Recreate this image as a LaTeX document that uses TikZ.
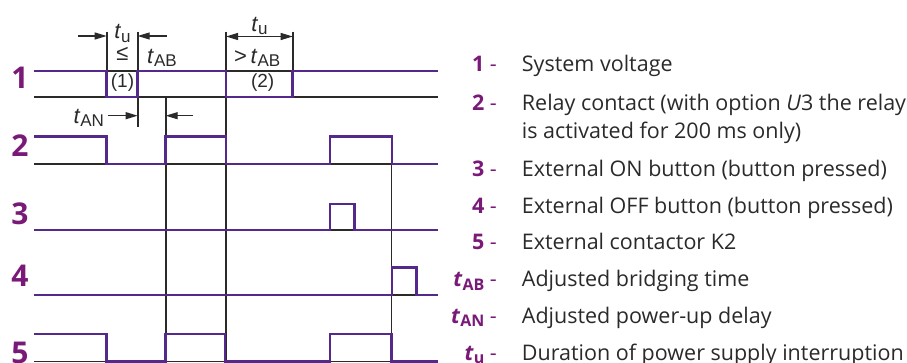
\documentclass[tikz,border=0pt]{standalone}
\usepackage{fontspec}
\setmainfont{Open Sans}
\newfontfamily\diagfont{Liberation Sans}
\usepackage{xcolor}
\usepackage{tikz}
\usetikzlibrary{arrows.meta,calc}
\definecolor{WavePurple}{HTML}{55288C}
\definecolor{LabelPurple}{HTML}{7A1A78}
\definecolor{TextDark}{HTML}{2B2A29}
\newcommand{\tdiag}[1]{\textit{t}\raisebox{-0.15em}{\fontsize{17}{17}\selectfont #1}}
\newcommand{\tkey}[1]{\textbf{\textit{t}\raisebox{-0.15em}{\fontsize{16}{16}\selectfont #1}}}

\begin{document}
\begin{tikzpicture}[x=1pt,y=-1pt,
    wave/.style={WavePurple, line width=2.8pt, line join=miter},
    base/.style={TextDark, line width=1.7pt},
    marker/.style={TextDark, line width=1.7pt},
    dimarrow/.style={TextDark, line width=1.1pt, -{Triangle[length=12pt,width=7pt]}},
    dimboth/.style={TextDark, line width=1.1pt, {Triangle[length=12pt,width=7pt]}-{Triangle[length=12pt,width=7pt]}},
    rowlab/.style={font=\fontsize{30}{30}\selectfont\bfseries, text=LabelPurple, anchor=base, inner sep=0pt},
    tlab/.style={font=\diagfont\fontsize{22}{22}\selectfont, text=TextDark, anchor=base, inner sep=0pt},
    caselab/.style={font=\diagfont\fontsize{19}{19}\selectfont, text=TextDark, anchor=base, inner sep=0pt},
    keylab/.style={font=\fontsize{21.5}{24}\selectfont, text=LabelPurple, anchor=base east, inner sep=0pt},
    desc/.style={font=\fontsize{21.5}{24}\selectfont, text=TextDark, anchor=base west, inner sep=0pt}
  ]
  \useasboundingbox (0,0) rectangle (907,363);

  % row numbers
  \foreach \n/\y in {1/89,2/156.5,3/225,4/286.5,5/363} {
      \node[rowlab] (row\n) at (20,\y) {\n};
    }

  % black reference lines
  \draw[base] (34,71) -- (438,71);
  \foreach \y in {97,164,230,295,361.6} {
      \draw[base] (34,\y) -- (438,\y);
    }

  % time markers
  \draw[marker] (106.7,31.7) -- (106.7,71);
  \draw[marker] (137.7,31.7) -- (137.7,126.7);
  \draw[marker] (165.7,97) -- (165.7,363);
  \draw[marker] (226,31.7) -- (226,363);
  \draw[marker] (292.7,31.7) -- (292.7,71);
  \draw[marker] (391.5,164) -- (391.5,363);

  % signals
  \draw[wave] (34,71) -- (106.7,71) -- (106.7,97) -- (137.7,97) -- (137.7,71)
    -- (226,71) -- (226,97) -- (292.7,97) -- (292.7,71) -- (438,71);
  \draw[wave] (34,136.7) -- (106.7,136.7) -- (106.7,164) -- (165.7,164) -- (165.7,136.7)
    -- (226,136.7) -- (226,164) -- (330,164) -- (330,136.7) -- (392,136.7)
    -- (392,164) -- (438,164);
  \draw[wave] (34,230) -- (330,230) -- (330,204) -- (354.5,204) -- (354.5,230) -- (438,230);
  \draw[wave] (34,295) -- (392,295) -- (392,267.5) -- (416.5,267.5) -- (416.5,295) -- (438,295);
  \draw[wave] (34,334) -- (106.7,334) -- (106.7,361.6) -- (165.7,361.6) -- (165.7,334)
    -- (225,334) -- (225,361.6) -- (330,361.6) -- (330,334) -- (391.7,334)
    -- (391.7,361.6) -- (438,361.6);

  % dimension ends
  \coordinate (drop1) at (106.7,36);
  \coordinate (back1) at (137.7,36);
  \coordinate (drop2) at (226,36.5);
  \coordinate (back2) at (292.7,36.5);
  \coordinate (tuIn) at (78,36);
  \coordinate (tabIn) at (167,36);
  \coordinate (anOn) at (137.7,115.7);
  \coordinate (anOut) at (165.7,115.7);
  \coordinate (anIn) at (108,115.7);
  \coordinate (anFrom) at (193,115.7);

  \draw[dimarrow] (tuIn) -- (drop1);
  \draw[dimarrow] (tabIn) -- (back1);
  \draw[dimboth] (drop2) -- (back2);
  \draw[dimarrow] (anIn) -- (anOn);
  \draw[dimarrow] (anFrom) -- (anOut);

  % diagram labels
  \node[tlab] (tuShort) at (122.5,39) {\tdiag{u}};
  \node[tlab] (leShort) at (122.5,61) {≤};
  \node[tlab, anchor=base west] (tabShort) at (147,63.5) {\tdiag{AB}};
  \node[tlab] (tuLong) at (259.5,31.5) {\tdiag{u}};
  \node[tlab, anchor=base west] (tabLong) at (234,63.5) {>\,\tdiag{AB}};
  \node[caselab] (case1) at (122.5,87.5) {(1)};
  \node[caselab] (case2) at (262.7,87.5) {(2)};
  \node[tlab, anchor=base west] (tAN) at (73.3,123.3) {\tdiag{AN}};

  % legend
  \foreach \n/\y in {1/72,2/110.7,3/176.7,4/213.5,5/250} {
      \node[keylab] (key\n) at (497,\y) {\textbf{\n} -};
    }
  \node[keylab] (keyAB) at (497,287) {\tkey{AB} -};
  \node[keylab] (keyAN) at (497,323.5) {\tkey{AN} -};
  \node[keylab] (keyU) at (497,360) {\tkey{u} -};

  \node[desc] (desc1) at (521.7,72) {System voltage};
  \node[desc] (desc2) at (521.7,110.7) {Relay contact (with option \textit{U}3 the relay};
  \node[desc] (desc2b) at (521.7,138.3) {is activated for 200 ms only)};
  \node[desc] (desc3) at (521.7,176.7) {External ON button (button pressed)};
  \node[desc] (desc4) at (521.7,213.5) {External OFF button (button pressed)};
  \node[desc] (desc5) at (521.7,250) {External contactor K2};
  \node[desc] (descAB) at (521.7,287) {Adjusted bridging time};
  \node[desc] (descAN) at (521.7,323.5) {Adjusted power-up delay};
  \node[desc] (descU) at (521.7,360) {Duration of power supply interruption};
\end{tikzpicture}
\end{document}
